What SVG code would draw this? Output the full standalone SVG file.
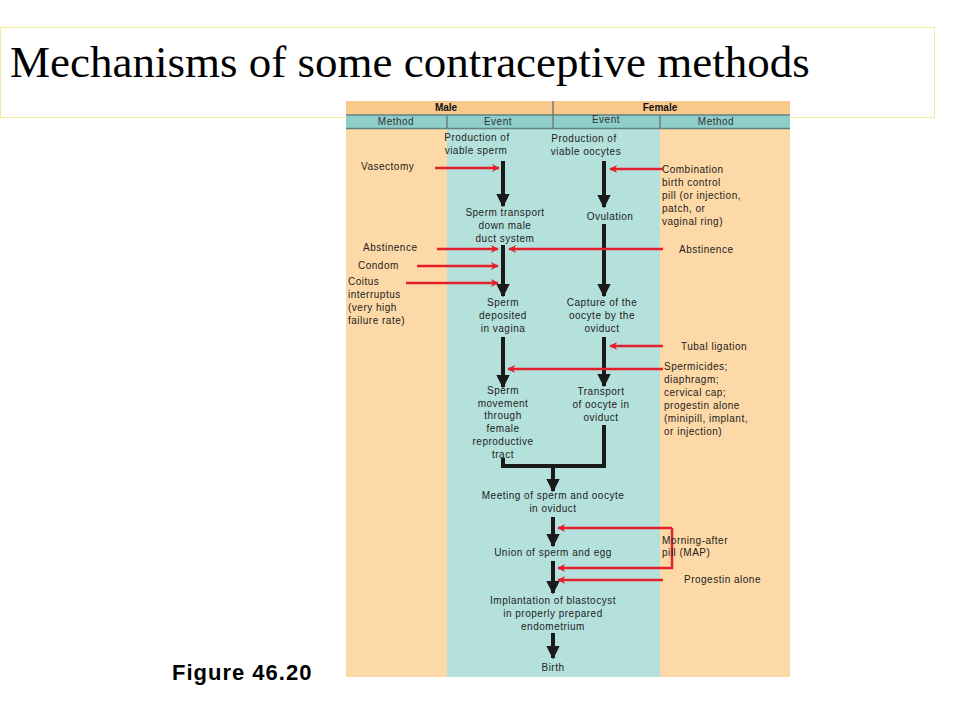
<svg xmlns="http://www.w3.org/2000/svg" width="960" height="720" viewBox="0 0 960 720">
<defs>
<marker id="bk" viewBox="0 0 10 10" refX="9" refY="5" markerWidth="3.4" markerHeight="3.4" markerUnits="strokeWidth" orient="auto"><path d="M0,0 L10,5 L0,10 z" fill="#1a1a1a"/></marker>
<marker id="rd" viewBox="0 0 10 10" refX="9" refY="5" markerWidth="5" markerHeight="3.2" markerUnits="strokeWidth" orient="auto"><path d="M0,0 L10,5 L0,10 L3,5 z" fill="#e31f2c"/></marker>
</defs>
<style>
.t{font-family:"Liberation Sans",Arial,sans-serif;font-size:10px;letter-spacing:0.5px;fill:#222;}
.c{text-anchor:middle;}
.h{font-family:"Liberation Sans",Arial,sans-serif;font-size:10px;font-weight:bold;fill:#111;text-anchor:middle;}
.hh{font-family:"Liberation Sans",Arial,sans-serif;font-size:10px;letter-spacing:0.5px;fill:#333;text-anchor:middle;}
.b{stroke:#1a1a1a;stroke-width:4;fill:none;}
.r{stroke:#e31f2c;stroke-width:2.5;fill:none;}
</style>
<rect width="960" height="720" fill="#fff"/>
<g id="title">
<rect x="0.5" y="27.5" width="934" height="90" fill="none" stroke="#f2ec9a" stroke-width="1"/>
<text x="10" y="77" font-family="'Liberation Serif','Times New Roman',serif" font-size="45" fill="#000">Mechanisms of some contraceptive methods</text>
</g>
<g id="panel">
<rect x="346" y="101" width="444" height="576" fill="#fdd9a7"/>
<rect x="447" y="129" width="213" height="548" fill="#b5e1dd"/>
<rect x="346" y="101" width="444" height="14" fill="#f9c98c"/>
<rect x="346" y="115" width="444" height="14" fill="#8ecfcb"/>
<line x1="346" y1="115" x2="790" y2="115" stroke="#5f8180" stroke-width="1.5"/>
<line x1="346" y1="128.5" x2="790" y2="128.5" stroke="#5f8180" stroke-width="1.5"/>
<line x1="553" y1="101" x2="553" y2="129" stroke="#6b7f7e" stroke-width="1.5"/>
<line x1="447" y1="115" x2="447" y2="129" stroke="#5f8180" stroke-width="1.5"/>
<line x1="660" y1="115" x2="660" y2="129" stroke="#5f8180" stroke-width="1.5"/>
<text class="h" x="446" y="111">Male</text>
<text class="h" x="660" y="111">Female</text>
<text class="hh" x="396" y="125">Method</text>
<text class="hh" x="498" y="125">Event</text>
<text class="hh" x="606" y="123">Event</text>
<text class="hh" x="716" y="125">Method</text>
</g>
<g id="connectors">
<line class="b" x1="503" y1="161" x2="503" y2="206" marker-end="url(#bk)"/>
<line class="b" x1="503" y1="245" x2="503" y2="296" marker-end="url(#bk)"/>
<line class="b" x1="503" y1="337" x2="503" y2="387" marker-end="url(#bk)"/>
<line class="b" x1="604" y1="161" x2="604" y2="207" marker-end="url(#bk)"/>
<line class="b" x1="604" y1="224" x2="604" y2="296" marker-end="url(#bk)"/>
<line class="b" x1="604" y1="337" x2="604" y2="386" marker-end="url(#bk)"/>
<polyline class="b" points="503,458 503,466 604,466 604,425"/>
<line class="b" x1="553" y1="466" x2="553" y2="491" marker-end="url(#bk)"/>
<line class="b" x1="553" y1="517" x2="553" y2="546" marker-end="url(#bk)"/>
<line class="b" x1="553" y1="561" x2="553" y2="593" marker-end="url(#bk)"/>
<line class="b" x1="553" y1="633" x2="553" y2="658" marker-end="url(#bk)"/>
<line class="r" x1="435" y1="168" x2="499" y2="168" marker-end="url(#rd)"/>
<line class="r" x1="663" y1="169" x2="610" y2="169" marker-end="url(#rd)"/>
<line class="r" x1="437" y1="249" x2="498" y2="249" marker-end="url(#rd)"/>
<line class="r" x1="663" y1="249" x2="509" y2="249" marker-end="url(#rd)"/>
<line class="r" x1="417" y1="266" x2="498" y2="266" marker-end="url(#rd)"/>
<line class="r" x1="406" y1="283" x2="498" y2="283" marker-end="url(#rd)"/>
<line class="r" x1="663" y1="346" x2="610" y2="346" marker-end="url(#rd)"/>
<line class="r" x1="663" y1="369" x2="508" y2="369" marker-end="url(#rd)"/>
<polyline class="r" points="672,528 672,568 558,568" marker-end="url(#rd)"/>
<line class="r" x1="672" y1="528" x2="558" y2="528" marker-end="url(#rd)"/>
<line class="r" x1="663" y1="580" x2="558" y2="580" marker-end="url(#rd)"/>
</g>
<g id="male-events">
<text class="t c" x="477" y="141">Production of</text>
<text class="t c" x="476" y="154">viable sperm</text>
<text class="t c" x="505" y="216">Sperm transport</text>
<text class="t c" x="505" y="229">down male</text>
<text class="t c" x="505" y="242">duct system</text>
<text class="t c" x="503" y="306">Sperm</text>
<text class="t c" x="503" y="319">deposited</text>
<text class="t c" x="503" y="332">in vagina</text>
<text class="t c" x="503" y="394">Sperm</text>
<text class="t c" x="503" y="407">movement</text>
<text class="t c" x="503" y="419">through</text>
<text class="t c" x="503" y="432">female</text>
<text class="t c" x="503" y="445">reproductive</text>
<text class="t c" x="503" y="458">tract</text>
</g>
<g id="female-events">
<text class="t c" x="584" y="142">Production of</text>
<text class="t c" x="586" y="155">viable oocytes</text>
<text class="t c" x="610" y="220">Ovulation</text>
<text class="t c" x="602" y="306">Capture of the</text>
<text class="t c" x="602" y="319">oocyte by the</text>
<text class="t c" x="602" y="332">oviduct</text>
<text class="t c" x="601" y="395">Transport</text>
<text class="t c" x="601" y="408">of oocyte in</text>
<text class="t c" x="601" y="421">oviduct</text>
</g>
<g id="shared-events">
<text class="t c" x="553" y="499">Meeting of sperm and oocyte</text>
<text class="t c" x="553" y="512">in oviduct</text>
<text class="t c" x="553" y="556">Union of sperm and egg</text>
<text class="t c" x="553" y="604">Implantation of blastocyst</text>
<text class="t c" x="553" y="617">in properly prepared</text>
<text class="t c" x="553" y="630">endometrium</text>
<text class="t c" x="553" y="671">Birth</text>
</g>
<g id="male-methods">
<text class="t" x="361" y="170">Vasectomy</text>
<text class="t" x="363" y="251">Abstinence</text>
<text class="t" x="358" y="269">Condom</text>
<text class="t" x="348" y="285">Coitus</text>
<text class="t" x="348" y="298">interruptus</text>
<text class="t" x="348" y="311">(very high</text>
<text class="t" x="348" y="324">failure rate)</text>
</g>
<g id="female-methods">
<text class="t" x="662" y="173">Combination</text>
<text class="t" x="662" y="186">birth control</text>
<text class="t" x="662" y="199">pill (or injection,</text>
<text class="t" x="662" y="212">patch, or</text>
<text class="t" x="662" y="225">vaginal ring)</text>
<text class="t" x="679" y="253">Abstinence</text>
<text class="t" x="681" y="350">Tubal ligation</text>
<text class="t" x="664" y="370">Spermicides;</text>
<text class="t" x="664" y="383">diaphragm;</text>
<text class="t" x="664" y="396">cervical cap;</text>
<text class="t" x="664" y="409">progestin alone</text>
<text class="t" x="664" y="422">(minipill, implant,</text>
<text class="t" x="664" y="435">or injection)</text>
<text class="t" x="662" y="544">Morning-after</text>
<text class="t" x="662" y="556">pill (MAP)</text>
<text class="t" x="684" y="583">Progestin alone</text>
</g>
<g id="caption">
<text x="172" y="680" font-family="'Liberation Sans',Arial,sans-serif" font-size="22" font-weight="bold" letter-spacing="1" fill="#000">Figure 46.20</text>
</g>
</svg>
